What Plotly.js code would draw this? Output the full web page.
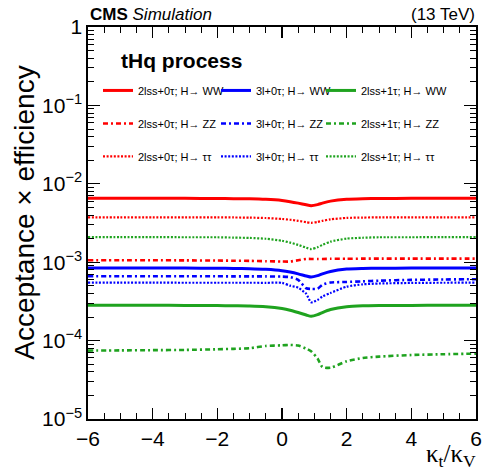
<!DOCTYPE html>
<html>
<head>
<meta charset="utf-8">
<script src="https://cdn.plot.ly/plotly-3.0.1.min.js"></script>
<style>html,body{margin:0;padding:0;background:#fff;}#chart{width:483px;height:474px;}</style>
</head>
<body>
<div id="chart"></div>
<script>
// kappa_t / kappa_V grid
const kappa = [-6,-5,-4,-3,-2,-1.5,-1,-0.5,0,0.25,0.5,0.75,0.9,1.1,1.25,1.5,2,2.5,3,4,5,6];

// 2lss+0tau
const lss0_WW = [6.53e-3,6.53e-3,6.53e-3,6.52e-3,6.50e-3,6.47e-3,6.43e-3,6.33e-3,6.12e-3,5.92e-3,5.67e-3,5.39e-3,5.25e-3,5.42e-3,5.67e-3,6.01e-3,6.36e-3,6.46e-3,6.50e-3,6.52e-3,6.53e-3,6.53e-3];
const lss0_ZZ = [1.06e-3,1.06e-3,1.06e-3,1.055e-3,1.05e-3,1.045e-3,1.04e-3,1.03e-3,1.02e-3,1.02e-3,1.06e-3,1.10e-3,1.10e-3,1.10e-3,1.10e-3,1.105e-3,1.105e-3,1.11e-3,1.11e-3,1.11e-3,1.11e-3,1.11e-3];
const lss0_TT = [3.74e-3,3.74e-3,3.74e-3,3.73e-3,3.73e-3,3.72e-3,3.70e-3,3.66e-3,3.56e-3,3.48e-3,3.37e-3,3.24e-3,3.18e-3,3.26e-3,3.37e-3,3.52e-3,3.67e-3,3.71e-3,3.73e-3,3.73e-3,3.74e-3,3.74e-3];
// 3l+0tau
const l3_WW = [8.43e-4,8.43e-4,8.43e-4,8.41e-4,8.39e-4,8.34e-4,8.28e-4,8.12e-4,7.79e-4,7.48e-4,7.10e-4,6.68e-4,6.47e-4,6.73e-4,7.10e-4,7.62e-4,8.17e-4,8.32e-4,8.39e-4,8.41e-4,8.43e-4,8.43e-4];
const l3_ZZ = [6.63e-4,6.63e-4,6.62e-4,6.62e-4,6.61e-4,6.60e-4,6.60e-4,6.59e-4,6.55e-4,6.45e-4,5.95e-4,4.65e-4,4.56e-4,4.60e-4,5.15e-4,5.50e-4,5.60e-4,5.70e-4,5.81e-4,5.95e-4,6.02e-4,6.07e-4];
const l3_TT = [5.48e-4,5.48e-4,5.48e-4,5.47e-4,5.47e-4,5.47e-4,5.47e-4,5.46e-4,5.45e-4,5.02e-4,4.73e-4,3.95e-4,3.08e-4,3.30e-4,3.65e-4,4.05e-4,4.87e-4,5.22e-4,5.35e-4,5.44e-4,5.47e-4,5.48e-4];
// 2lss+1tau
const lss1_WW = [2.82e-4,2.82e-4,2.82e-4,2.81e-4,2.80e-4,2.78e-4,2.76e-4,2.70e-4,2.56e-4,2.44e-4,2.28e-4,2.12e-4,2.04e-4,2.14e-4,2.28e-4,2.49e-4,2.71e-4,2.78e-4,2.80e-4,2.81e-4,2.82e-4,2.82e-4];
const lss1_ZZ = [7.46e-5,7.50e-5,7.55e-5,7.60e-5,7.75e-5,7.85e-5,8.00e-5,8.55e-5,8.70e-5,8.80e-5,8.65e-5,7.90e-5,7.30e-5,5.90e-5,4.60e-5,4.50e-5,5.45e-5,6.00e-5,6.25e-5,6.55e-5,6.70e-5,6.83e-5];
const lss1_TT = [2.09e-3,2.09e-3,2.09e-3,2.08e-3,2.08e-3,2.06e-3,2.04e-3,1.99e-3,1.88e-3,1.78e-3,1.66e-3,1.53e-3,1.47e-3,1.55e-3,1.66e-3,1.83e-3,2.00e-3,2.05e-3,2.08e-3,2.08e-3,2.09e-3,2.09e-3];

const seriesNames = [
  "2lss+0τ; H→ WW","2lss+0τ; H→ ZZ","2lss+0τ; H→ ττ",
  "3l+0τ; H→ WW","3l+0τ; H→ ZZ","3l+0τ; H→ ττ",
  "2lss+1τ; H→ WW","2lss+1τ; H→ ZZ","2lss+1τ; H→ ττ"
];
const seriesValues = [lss0_WW,lss0_ZZ,lss0_TT,l3_WW,l3_ZZ,l3_TT,lss1_WW,lss1_ZZ,lss1_TT];

const yTickVals = [1e-5,1e-4,1e-3,1e-2,1e-1,1];
const yTickText = ["10<sup>−5</sup>","10<sup>−4</sup>","10<sup>−3</sup>","10<sup>−2</sup>","10<sup>−1</sup>","1"];

const colors = ["#ff0000","#0000ff","#1fa31f"];
const dashes = ["solid","5px,3px,2px,3px","2px,1.6px"];
const widths = [3,2.6,2.2];
const legendIds = ["legend","legend2","legend3"];

const traces = seriesValues.map((vals,i)=>{
  const col = Math.floor(i/3), kind = i%3;
  return {
    x: kappa, y: vals, type:"scatter", mode:"lines", name: seriesNames[i],
    line:{color:colors[col], dash:dashes[kind], width:widths[kind], shape:"spline", smoothing:0.6},
    legend: legendIds[col], legendgroup: "g"+i
  };
});

const FONT = "Liberation Sans, Arial, sans-serif";
const W = 388, H = 392.5;
function px2x(p){return (p-88)/W;}
function py2y(p){return (419.5-p)/H;}
const legBase = {xanchor:"left", yanchor:"top", bgcolor:"rgba(0,0,0,0)", borderwidth:0,
  font:{family:FONT,size:11,color:"#000"}, traceorder:"grouped", tracegroupgap:14, itemwidth:30};

const layout = {
  width:483, height:474,
  margin:{l:88,r:7,t:27,b:55},
  paper_bgcolor:"#fff", plot_bgcolor:"#fff",
  font:{family:FONT,color:"#000"},
  xaxis:{range:[-6,6], dtick:2, tick0:-6, ticks:"inside", ticklen:11, tickwidth:1.2, tickcolor:"#000",
    showline:true, linecolor:"#000", linewidth:1.6, mirror:"ticks", showgrid:false, zeroline:false,
    tickfont:{family:FONT,size:21},
    minor:{dtick:0.5, ticks:"inside", ticklen:6, tickwidth:1, tickcolor:"#000", showgrid:false}},
  yaxis:{type:"log", range:[-5,0], tickvals:yTickVals, ticktext:yTickText, ticks:"inside", ticklen:12, tickwidth:1.2,
    tickcolor:"#000", showline:true, linecolor:"#000", linewidth:1.6, mirror:"ticks", showgrid:false, zeroline:false,
    tickfont:{family:FONT,size:21},
    minor:{dtick:"D1", ticks:"inside", ticklen:6, tickwidth:1, tickcolor:"#000", showgrid:false}},
  legend: Object.assign({}, legBase, {x:px2x(98), y:py2y(76)}),
  legend2: Object.assign({}, legBase, {x:px2x(216), y:py2y(76)}),
  legend3: Object.assign({}, legBase, {x:px2x(321), y:py2y(76)}),
  annotations:[
    {text:"Acceptance × efficiency", textangle:-90, xref:"paper", yref:"paper", x:px2x(25), y:py2y(213),
     xanchor:"center", yanchor:"middle", showarrow:false, font:{family:FONT,size:28}},
    {text:"κ<sub>t</sub>/κ<sub>V</sub>", xref:"paper", yref:"paper", x:px2x(478), y:py2y(456),
     xanchor:"right", yanchor:"middle", showarrow:false, font:{family:"Liberation Serif, serif",size:25}},
    {text:"<b>CMS</b> <i>Simulation</i>", xref:"paper", yref:"paper", x:px2x(88), y:py2y(14),
     xanchor:"left", yanchor:"middle", showarrow:false, font:{family:FONT,size:17}},
    {text:"(13 TeV)", xref:"paper", yref:"paper", x:px2x(477), y:py2y(14),
     xanchor:"right", yanchor:"middle", showarrow:false, font:{family:FONT,size:17}},
    {text:"<b>tHq process</b>", xref:"paper", yref:"paper", x:px2x(119), y:py2y(61),
     xanchor:"left", yanchor:"middle", showarrow:false, font:{family:FONT,size:21}}
  ]
};

Plotly.newPlot("chart", traces, layout, {staticPlot:true, displayModeBar:false});
</script>
</body>
</html>
